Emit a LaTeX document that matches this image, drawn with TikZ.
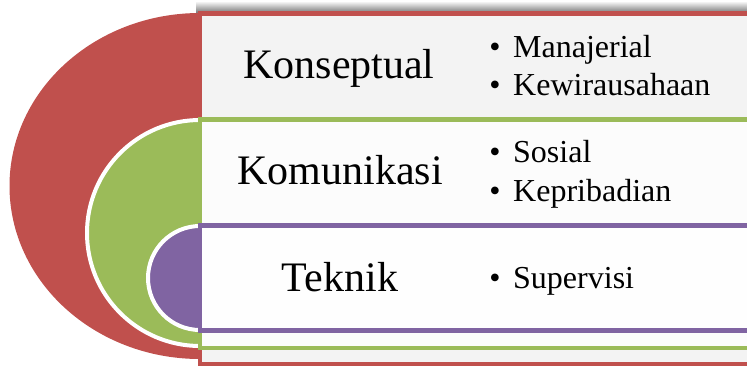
\documentclass[tikz,border=0pt]{standalone}
\usepackage{fontspec}
\setmainfont{Liberation Serif}
\definecolor{cred}{HTML}{C0504D}
\definecolor{cgreen}{HTML}{9BBB59}
\definecolor{cpurple}{HTML}{8064A2}
\definecolor{redfill}{HTML}{F3F3F3}
\definecolor{greenfill}{HTML}{FCFCFC}
\definecolor{purplefill}{HTML}{FEFEFE}
\begin{document}
\begin{tikzpicture}[x=1pt,y=-1pt,
  title/.style={anchor=base,inner sep=0pt,font=\fontsize{42}{50}\selectfont},
  item/.style={anchor=base west,inner sep=0pt,font=\fontsize{32}{38}\selectfont},
  dot/.style={anchor=base,inner sep=0pt,font=\fontsize{32}{38}\selectfont},
  band/.style={line width=4.5pt},
  disc/.style={draw=white,line width=4pt}]
\useasboundingbox (0,0) rectangle (747,365);
\clip (0,0) rectangle (747,365);
% shadow above the top band
\shade[top color=white,bottom color=black!50] (196,1) rectangle (770,12);
% red level
\fill[cred] (200,186) ellipse[x radius=190.5,y radius=173];
\draw[band,draw=cred,fill=redfill] (200,13.5) rectangle (770,364);
% green level
\filldraw[disc,fill=cgreen] (200,233) ellipse[x radius=113,y radius=113];
\draw[band,draw=cgreen,fill=greenfill] (200,119.5) rectangle (770,348);
% purple level
\filldraw[disc,fill=cpurple] (200,278) ellipse[x radius=52,y radius=52];
\draw[band,draw=cpurple,fill=purplefill] (200,225.5) rectangle (770,330.5);
% titles
\node[title] (t1) at (339,78) {Konseptual};
\node[title] (t2) at (340,184) {Komunikasi};
\node[title] (t3) at (340,291) {Teknik};
% bullets
\node[dot] (d1) at (495,57) {•};
\node[item] (i1) at (513,57) {Manajerial};
\node[dot] (d2) at (495,95) {•};
\node[item] (i2) at (513,95) {Kewirausahaan};
\node[dot] (d3) at (495,162) {•};
\node[item] (i3) at (513,162) {Sosial};
\node[dot] (d4) at (495,201) {•};
\node[item] (i4) at (513,201) {Kepribadian};
\node[dot] (d5) at (495,288) {•};
\node[item] (i5) at (513,288) {Supervisi};
\end{tikzpicture}
\end{document}
